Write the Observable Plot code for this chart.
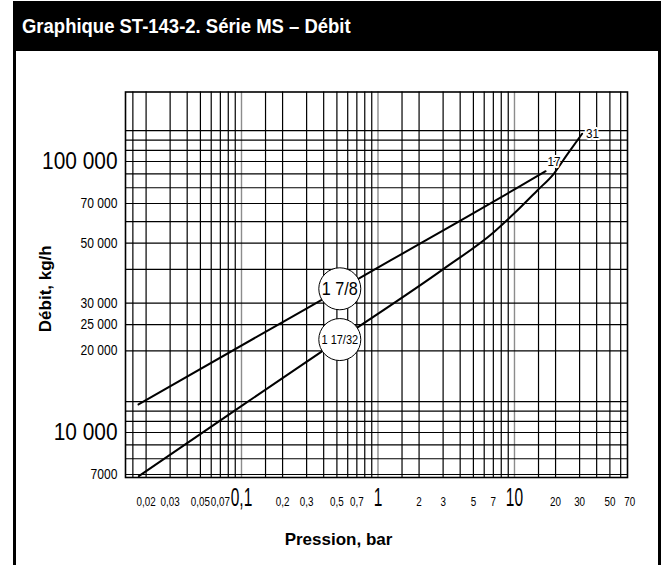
<!DOCTYPE html>
<html><head><meta charset="utf-8">
<script src="https://cdn.jsdelivr.net/npm/d3@7"></script>
<script src="https://cdn.jsdelivr.net/npm/@observablehq/plot@0.6"></script>
<style>
html,body{margin:0;padding:0;background:#fff;width:666px;height:565px;overflow:hidden;}
#title{position:absolute;left:13px;top:1px;width:648px;height:50px;background:#000;color:#fff;font-family:"Liberation Sans",Arial,sans-serif;font-weight:bold;font-size:21px;line-height:50px;padding-left:9px;box-sizing:border-box;white-space:nowrap;}
#title span{display:inline-block;transform:scaleX(0.88);transform-origin:0 50%;}
#box{position:absolute;left:13px;top:51px;width:648px;height:514px;border-left:3px solid #000;border-right:3px solid #000;box-sizing:border-box;}
#chart{position:absolute;left:0;top:52px;width:666px;height:513px;}
</style></head><body>
<div id="title"><span>Graphique ST-143-2. Série MS – Débit</span></div>
<div id="box"></div>
<div id="chart"></div>
<script>
// Grid lines (bar, kg/h)
const xGrid = [0.016, 0.02, 0.03, 0.04, 0.05, 0.06, 0.07, 0.08, 0.09, 0.15, 0.2, 0.3, 0.4, 0.5, 0.6, 0.7, 0.8, 0.9, 1.5, 2, 3, 4, 5, 6, 7, 8, 9, 15, 20, 30, 40, 50, 60];
const xGridDecades = [0.1, 1, 10];
const yGrid = [7000, 8000, 9000, 10000, 11000, 12000, 13000, 20000, 25000, 30000, 40000, 50000, 60000, 70000, 80000, 90000, 100000, 110000, 120000, 130000];

// Tick labels
const xTickValues = [0.02, 0.03, 0.05, 0.07, 0.1, 0.2, 0.3, 0.5, 0.7, 1, 2, 3, 5, 7, 10, 20, 30, 50, 70];
const xTickLabels = ["0,02", "0,03", "0,05", "0,07", "0,1", "0,2", "0,3", "0,5", "0,7", "1", "2", "3", "5", "7", "10", "20", "30", "50", "70"];
const xTickMajor = [0.1, 1, 10];
const yTickValues = [7000, 10000, 20000, 25000, 30000, 50000, 70000, 100000];
const yTickLabels = ["7000", "10 000", "20 000", "25 000", "30 000", "50 000", "70 000", "100 000"];
const yTickMajor = [10000, 100000];

// Series: 1 7/8
const s1Pressure = [0.0176, 0.193, 0.531, 1.235, 4.02, 10.46, 16.9];
const s1Flow = [12690, 25300, 33800, 43150, 60500, 79900, 92100];
// Series: 1 17/32
const s2Pressure = [0.0177, 0.104, 0.531, 3.03, 7.05, 9.88, 14.7, 19.4, 24.3, 31.3];
const s2Flow = [6900, 12700, 22150, 40180, 54830, 64100, 78200, 90100, 106000, 126600];

// Circle labels
const circleNames = ["1 7/8", "1 17/32"];
const circlePressure = [0.525, 0.525];
const circleFlow = [33910, 22030];
// End labels
const endNames = ["17", "31"];

const SANS = '"Liberation Sans",Arial,sans-serif';
const s1 = s1Pressure.map((p, i) => ({p, f: s1Flow[i]}));
const s2 = s2Pressure.map((p, i) => ({p, f: s2Flow[i]}));
const circles = circleNames.map((n, i) => ({n, p: circlePressure[i], f: circleFlow[i], big: i === 0}));
const ends = [
  {n: endNames[0], p: s1Pressure[s1Pressure.length - 1], f: s1Flow[s1Flow.length - 1], dx: 2, dy: -9},
  {n: endNames[1], p: s2Pressure[s2Pressure.length - 1], f: s2Flow[s2Flow.length - 1], dx: 4, dy: 0}
];
const xt = xTickValues.map((v, i) => ({v, t: xTickLabels[i], big: xTickMajor.includes(v)}));
const yt = yTickValues.map((v, i) => ({v, t: yTickLabels[i], big: yTickMajor.includes(v)}));

// horizontal condensation per text mark (in mark order), mimicking a narrow typeface
const condense = [0.9, 0.88, 0.9, 0.9, 0.865, 0.87, 0.82, 0.62, 1, 1];

const chart = Plot.plot({
  width: 666, height: 513,
  marginLeft: 125, marginRight: 39, marginTop: 39.5, marginBottom: 88,
  x: {type: "log", domain: [0.01413, 67.3], axis: null},
  y: {type: "log", domain: [6823, 180500], axis: null},
  style: {background: "transparent", fontFamily: SANS, overflow: "visible"},
  marks: [
    Plot.ruleX(xGrid, {stroke: "#000", strokeWidth: 1.2}),
    Plot.ruleX(xGridDecades, {stroke: "#8c8c8c", strokeWidth: 1.4}),
    Plot.ruleY(yGrid, {stroke: "#000", strokeWidth: 1.2}),
    Plot.frame({stroke: "#000", strokeWidth: 1.6}),
    Plot.line(s1, {x: "p", y: "f", stroke: "#000", strokeWidth: 2, curve: "monotone-x"}),
    Plot.line(s2, {x: "p", y: "f", stroke: "#000", strokeWidth: 2, curve: "monotone-x"}),
    Plot.dot(circles, {x: "p", y: "f", r: 21, fill: "#fff", stroke: "#000", strokeWidth: 1}),
    Plot.text(circles.filter(d => d.big), {x: "p", y: "f", text: "n", fontSize: 18, fill: "#000"}),
    Plot.text(circles.filter(d => !d.big), {x: "p", y: "f", text: "n", fontSize: 12.5, fill: "#000"}),
    ...ends.map(e => Plot.text([e], {x: "p", y: "f", text: "n", dx: e.dx, dy: e.dy, textAnchor: "start", fontSize: 13, fill: "#000", stroke: "#fff", strokeWidth: 4})),
    Plot.text(yt.filter(d => !d.big), {y: "v", text: "t", frameAnchor: "left", dx: -8, textAnchor: "end", lineAnchor: "middle", fontSize: 14, fill: "#000"}),
    Plot.text(yt.filter(d => d.big), {y: "v", text: "t", frameAnchor: "left", dx: -8, textAnchor: "end", lineAnchor: "middle", fontSize: 24, fill: "#000"}),
    Plot.text(xt.filter(d => !d.big), {x: "v", text: "t", frameAnchor: "bottom", dy: 28, textAnchor: "middle", lineAnchor: "bottom", fontSize: 12, fill: "#000"}),
    Plot.text(xt.filter(d => d.big), {x: "v", text: "t", frameAnchor: "bottom", dy: 28, textAnchor: "middle", lineAnchor: "bottom", fontSize: 25, fill: "#000"}),
    Plot.text(["Pression, bar"], {frameAnchor: "bottom", dx: -38, dy: 67, textAnchor: "middle", lineAnchor: "bottom", fontSize: 17, fontWeight: "bold", fill: "#000"}),
    Plot.text(["Débit, kg/h"], {frameAnchor: "left", dx: -75, dy: 4, rotate: -90, textAnchor: "middle", lineAnchor: "bottom", fontSize: 17, fontWeight: "bold", fill: "#000"})
  ]
});

// apply horizontal condensation to each text element
const textGroups = Array.from(chart.querySelectorAll(':scope > g[aria-label="text"]'));
textGroups.forEach((g, gi) => {
  const s = condense[gi] ?? 1;
  if (s === 1) return;
  g.querySelectorAll("text").forEach(el => {
    const t = el.getAttribute("transform");
    if (t) el.setAttribute("transform", t + ` scale(${s},1)`);
    else {
      const x = +(el.getAttribute("x") || 0);
      el.setAttribute("transform", `translate(${x},0) scale(${s},1) translate(${-x},0)`);
    }
  });
});
document.getElementById("chart").appendChild(chart);
</script>
</body></html>
